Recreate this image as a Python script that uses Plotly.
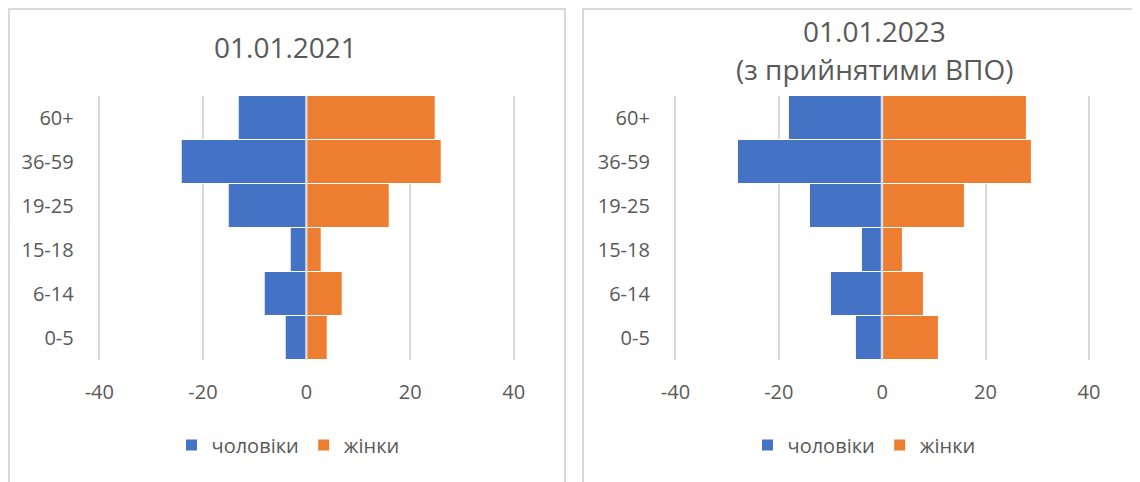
import plotly.graph_objects as go

W, H = 1140, 482
OFFSET = 8  # page body margin, the figure is drawn 8px right and down

# age groups, bottom to top
age_groups = ["0-5", "6-14", "15-18", "19-25", "36-59", "60+"]

# 01.01.2021
men_2021 = [4, 8, 3, 15, 24, 13]
women_2021 = [4, 7, 3, 16, 26, 25]

# 01.01.2023 (with accepted IDPs)
men_2023 = [5, 10, 4, 14, 28, 18]
women_2023 = [11, 8, 4, 16, 29, 28]

x_ticks = [-40, -20, 0, 20, 40]
x_tick_labels = ["-40", "-20", "0", "20", "40"]

BLUE = "#4472C4"
ORANGE = "#ED7D31"
GRID = "#d9d9d9"
TEXT = "#595959"
FONT = "Open Sans"


def px_x(x):
    return (x - OFFSET) / W


def px_y(y):
    return 1 - (y - OFFSET) / H


fig = go.Figure()

panels = [
    dict(men=men_2021, women=women_2021, xa="x", ya="y", legend="legend"),
    dict(men=men_2023, women=women_2023, xa="x2", ya="y2", legend="legend2"),
]

for p in panels:
    fig.add_trace(go.Bar(
        y=age_groups, x=[-v for v in p["men"]], orientation="h", name="чоловіки",
        marker=dict(color=BLUE, line=dict(color="white", width=1)),
        xaxis=p["xa"], yaxis=p["ya"], legend=p["legend"],
    ))
    fig.add_trace(go.Bar(
        y=age_groups, x=p["women"], orientation="h", name="жінки",
        marker=dict(color=ORANGE, line=dict(color="white", width=1)),
        xaxis=p["xa"], yaxis=p["ya"], legend=p["legend"],
    ))

# range padded by half a unit so the +-40 gridlines are not clipped at the edges
y_dom = [px_y(360), px_y(96)]
xa_common = dict(
    range=[-40.5, 40.5], tickvals=x_ticks, ticktext=x_tick_labels,
    showgrid=True, gridcolor=GRID, gridwidth=2,
    zeroline=False, showline=False, ticks="outside", ticklen=14,
    tickcolor="rgba(0,0,0,0)", tickfont=dict(size=20, color=TEXT),
    fixedrange=True, automargin=False,
)
ya_common = dict(
    type="category", range=[-0.5, 5.5], showgrid=False, zeroline=False, showline=False,
    ticks="outside", ticklen=18, tickcolor="rgba(0,0,0,0)",
    tickfont=dict(size=20, color=TEXT), fixedrange=True, domain=y_dom, automargin=False,
)

fig.update_layout(
    xaxis=dict(domain=[px_x(96.7), px_x(516.4)], anchor="y", **xa_common),
    yaxis=dict(anchor="x", **ya_common),
    xaxis2=dict(domain=[px_x(672.9), px_x(1091.5)], anchor="y2", **xa_common),
    yaxis2=dict(anchor="x2", **ya_common),
)

legend_common = dict(
    orientation="h", xanchor="center", yanchor="middle",
    font=dict(family=FONT, size=20, color=TEXT), bgcolor="rgba(0,0,0,0)",
    traceorder="normal", itemwidth=30,
)
fig.update_layout(
    legend=dict(x=px_x(288), y=px_y(445), **legend_common),
    legend2=dict(x=px_x(864), y=px_y(445), **legend_common),
)

# zero lines drawn over the bars
for xr, yr in [("x", "y"), ("x2", "y2")]:
    fig.add_shape(type="line", xref=xr, yref=f"{yr} domain",
                  x0=0, x1=0, y0=0, y1=1, line=dict(color=GRID, width=2), layer="above")

# chart area borders (kept inside the figure, the page edge is at 8px)
box_top = 1 - 1 / H
fig.add_shape(type="rect", xref="paper", yref="paper",
              x0=1 / W, x1=px_x(565), y0=0, y1=box_top,
              line=dict(color=GRID, width=2), layer="below")
fig.add_shape(type="rect", xref="paper", yref="paper",
              x0=px_x(583), x1=1, y0=0, y1=box_top,
              line=dict(color=GRID, width=2), layer="below")

title_font = dict(family=FONT, size=28, color=TEXT)
fig.add_annotation(text="01.01.2021", x=px_x(285), y=px_y(47), xref="paper", yref="paper",
                   showarrow=False, font=title_font, xanchor="center", yanchor="middle")
fig.add_annotation(text="01.01.2023", x=px_x(874), y=px_y(31), xref="paper", yref="paper",
                   showarrow=False, font=title_font, xanchor="center", yanchor="middle")
fig.add_annotation(text="(з прийнятими ВПО)", x=px_x(874), y=px_y(69), xref="paper", yref="paper",
                   showarrow=False, font=title_font, xanchor="center", yanchor="middle")

fig.update_layout(
    width=W, height=H, autosize=False,
    margin=dict(l=0, r=0, t=0, b=0, pad=0),
    barmode="relative", bargap=0,
    paper_bgcolor="white", plot_bgcolor="white",
    font=dict(family=FONT, color=TEXT),
)

fig.write_html("out.html")
